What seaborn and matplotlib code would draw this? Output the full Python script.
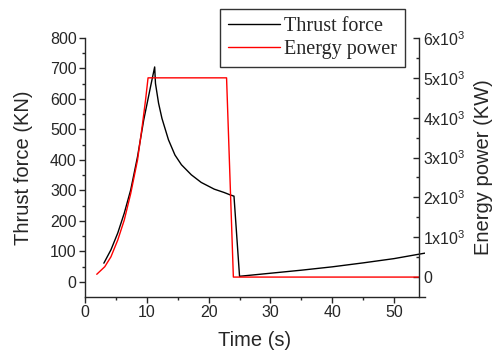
import numpy as np
import pandas as pd
import matplotlib as mpl
mpl.use('Agg')
import matplotlib.pyplot as plt
import seaborn as sns
from matplotlib.ticker import FixedLocator

# thrust force curve (KN)
thrust_t = [3.05, 4.2, 5.3, 6.35, 7.4, 8.5, 9.5, 10.6, 11.27, 11.4, 11.9, 12.45,
            13.5, 14.55, 15.6, 17.2, 18.8, 20.9, 22.5, 23.5, 24.1, 25.0,
            30.0, 35.0, 40.0, 45.0, 50.0, 55.0]
thrust_f = [61, 105, 160, 225, 302, 411, 531, 640, 705, 651, 586, 536,
            466, 416, 384, 351, 326, 304, 293, 285, 281, 18,
            28, 38, 49, 62, 76, 94]

# energy power curve (KW)
power_t = [1.9, 3.2, 4.2, 5.3, 6.35, 7.4, 8.5, 9.25, 9.8, 10.2, 22.9, 24.0, 54.0]
power_p = [70, 260, 510, 930, 1430, 2100, 2940, 3780, 4450, 5000, 5000, 0, 0]

right_ticks = [0, 1000, 2000, 3000, 4000, 5000, 6000]
right_labels = ['0'] + [r'$\mathregular{%dx10^{3}}$' % (v // 1000) for v in right_ticks[1:]]

thrust = pd.DataFrame({'t': thrust_t, 'F': thrust_f})
power = pd.DataFrame({'t': power_t, 'P': power_p})

sns.set_style("ticks")
plt.rcParams['font.family'] = ['Liberation Sans', 'DejaVu Sans']
plt.rcParams['mathtext.fontset'] = 'custom'
plt.rcParams['mathtext.rm'] = 'Liberation Sans'

fig = plt.figure(figsize=(4.93, 3.56), dpi=100)
ax = fig.add_axes([85/493, 1-297/356, 340/493, 259/356])
ax2 = ax.twinx()

sns.lineplot(data=thrust, x='t', y='F', ax=ax, color='black', lw=1.0,
             estimator=None, sort=False, label='Thrust force', legend=False)
sns.lineplot(data=power, x='t', y='P', ax=ax2, color='red', lw=1.0,
             estimator=None, sort=False, label='Energy power', legend=False)

ax.set_xlim(0, 55)
ax.set_ylim(-50, 800)
ax2.set_ylim(-500, 6000)

ax.xaxis.set_major_locator(FixedLocator([0, 10, 20, 30, 40, 50]))
ax.xaxis.set_minor_locator(FixedLocator([5, 15, 25, 35, 45]))
ax.yaxis.set_major_locator(FixedLocator([0, 100, 200, 300, 400, 500, 600, 700, 800]))
ax.yaxis.set_minor_locator(FixedLocator(np.arange(50, 800, 100)))
ax2.yaxis.set_major_locator(FixedLocator(right_ticks))
ax2.yaxis.set_minor_locator(FixedLocator([500, 1500, 2500, 3500, 4500, 5500]))
ax2.set_yticklabels(right_labels)

for a in (ax, ax2):
    a.spines['top'].set_visible(False)
    for s in a.spines.values():
        s.set_linewidth(1.0)
ax.spines['right'].set_visible(False)
ax2.spines['left'].set_visible(False)
ax2.spines['bottom'].set_visible(False)
ax2.spines['right'].set_position(('data', 54))
ax2.spines['right'].set_bounds(-500, 6000)

ax.tick_params(which='major', direction='out', length=4, width=1, labelsize=11.5, pad=2)
ax.tick_params(which='minor', direction='out', length=2.5, width=1)
ax2.tick_params(which='major', direction='in', length=4, width=1, labelsize=11.5, pad=3)
ax2.tick_params(which='minor', direction='in', length=2.5, width=1)

ax.set_xlabel('Time (s)', fontsize=14.5, labelpad=8)
ax.set_ylabel('Thrust force (KN)', fontsize=14.5, labelpad=12)
ax2.set_ylabel('Energy power (KW)', fontsize=14.5, labelpad=6)

h1, l1 = ax.get_legend_handles_labels()
h2, l2 = ax2.get_legend_handles_labels()
leg = fig.legend(h1 + h2, l1 + l2, loc='upper right',
                 bbox_to_anchor=(405/493, 1-9/356), borderaxespad=0,
                 frameon=True, fancybox=False, edgecolor='black',
                 prop={'family': 'Liberation Serif', 'size': 14.5},
                 handlelength=2.6, handletextpad=0.2, borderpad=0.4,
                 labelspacing=0.2)
leg.get_frame().set_linewidth(1.0)

fig.savefig('out.png', dpi=100)
